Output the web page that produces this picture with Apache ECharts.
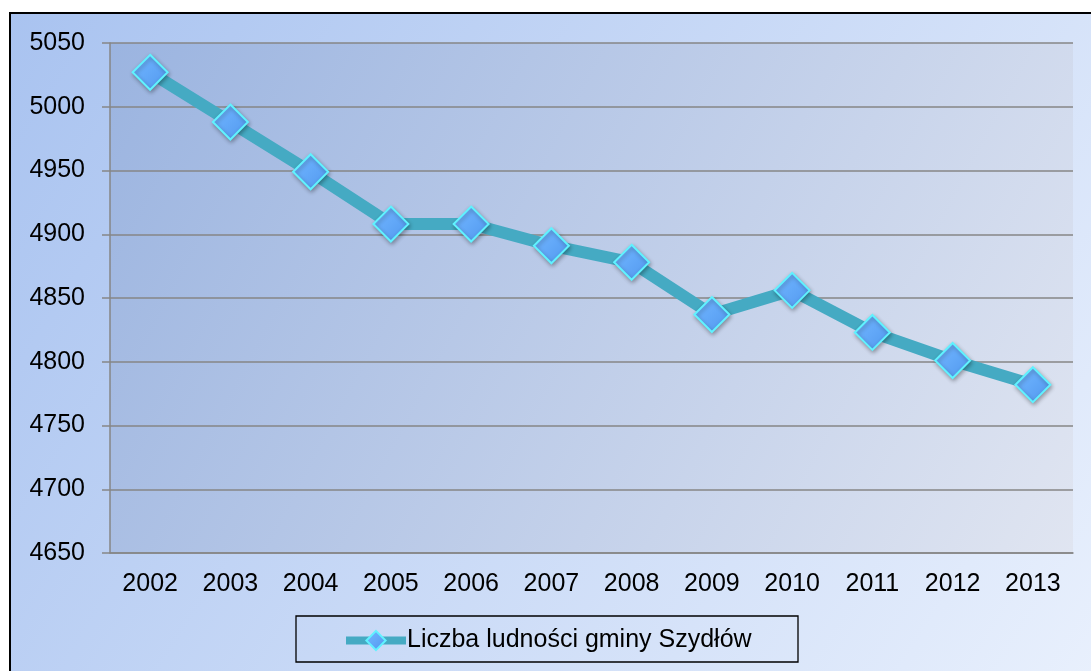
<!DOCTYPE html>
<html>
<head>
<meta charset="utf-8">
<script src="https://cdn.jsdelivr.net/npm/echarts@6/dist/echarts.min.js"></script>
<style>html,body{margin:0;padding:0;background:#fff;}#c{width:1091px;height:671px;}</style>
</head>
<body>
<div id="c"></div>
<script>
var categories = ['2002','2003','2004','2005','2006','2007','2008','2009','2010','2011','2012','2013'];
var seriesName = 'Liczba ludności gminy Szydłów';
var values = [5027, 4988, 4949, 4908, 4908, 4891, 4878, 4837, 4856, 4823, 4801, 4782];
var yMin = 4650, yMax = 5050, yStep = 50;

var chart = echarts.init(document.getElementById('c'));
var G = echarts.graphic;
chart.setOption({
  animation: false,
  textStyle: { fontFamily: 'Liberation Sans, Arial, sans-serif' },
  graphic: [
    { type: 'rect', z: -10, silent: true,
      shape: { x: 10, y: 13, width: 1100, height: 700 },
      style: { fill: new G.LinearGradient(0, 0, 1, 1, [
        { offset: 0, color: '#A9C3F0' }, { offset: 1, color: '#EAF1FD' }]),
        stroke: '#000', lineWidth: 2 } },
    { type: 'rect', z: 1, silent: true,
      shape: { x: 296, y: 616, width: 502, height: 46 },
      style: { fill: 'rgba(0,0,0,0)', stroke: '#000', lineWidth: 1.3 } }
  ],
  grid: { left: 110, right: 18, top: 43, bottom: 118, show: true, borderWidth: 0,
    backgroundColor: new G.LinearGradient(0, 0, 1, 1, [
      { offset: 0, color: '#9BB4E0' }, { offset: 1, color: '#E0E5F1' }]) },
  legend: {
    left: 342, top: 628, padding: 0, itemGap: 0,
    itemWidth: 60, itemHeight: 24,
    textStyle: { fontSize: 25, color: '#000', padding: [0, 0, 0, -4] },
    lineStyle: { width: 8 },
    data: [seriesName]
  },
  xAxis: {
    type: 'category', data: categories, boundaryGap: true,
    axisLine: { lineStyle: { color: '#868686', width: 1.5 } },
    axisTick: { length: 7, lineStyle: { color: '#868686', width: 1.5 } },
    axisLabel: { fontSize: 25, color: '#000', margin: 19 }
  },
  yAxis: {
    type: 'value', min: yMin, max: yMax, interval: yStep,
    axisLine: { show: true, lineStyle: { color: '#868686', width: 1.5 } },
    axisTick: { show: true, length: 8, lineStyle: { color: '#868686', width: 1.5 } },
    splitLine: { lineStyle: { color: '#868686', width: 1.5 } },
    axisLabel: { fontSize: 25, color: '#000', margin: 25, formatter: function (v) { return String(v); } }
  },
  series: [{
    name: seriesName, type: 'line', data: values,
    symbol: 'diamond', symbolSize: 35,
    lineStyle: { color: '#45AAC3', width: 12 },
    itemStyle: {
      color: new G.LinearGradient(0, 0, 1, 1, [
        { offset: 0, color: '#74B8FF' }, { offset: 0.5, color: '#62A8F8' }, { offset: 1, color: '#5196EC' }]),
      borderColor: '#60F2FF', borderWidth: 2,
      shadowColor: 'rgba(0,0,0,0.3)', shadowBlur: 4, shadowOffsetX: 1, shadowOffsetY: 2
    }
  }]
});
</script>
</body>
</html>
